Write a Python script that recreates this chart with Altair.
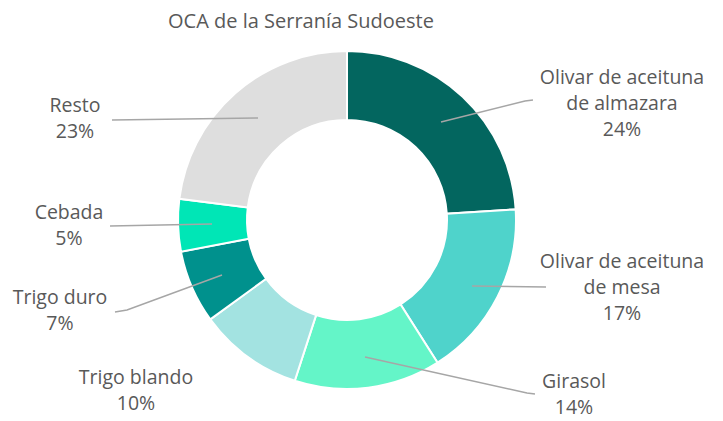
import altair as alt
import pandas as pd

categories = ["Olivar de aceituna de almazara", "Olivar de aceituna de mesa", "Girasol",
              "Trigo blando", "Trigo duro", "Cebada", "Resto"]
label_texts = ["Olivar de aceituna\nde almazara", "Olivar de aceituna\nde mesa", "Girasol",
               "Trigo blando", "Trigo duro", "Cebada", "Resto"]
values = [24, 17, 14, 10, 7, 5, 23]
colors = ["#03665f", "#4fd3cb", "#64f5c8", "#a3e3e1", "#00918d", "#00e6b6", "#dedede"]

# layout (chart pixel coords): first-line centre of each label, and leader lines
label_x = [614, 614, 566, 128, 52, 61, 67]
label_y = [70, 254, 374, 370, 290, 205, 98]
leaders = {
    "Olivar de aceituna de almazara": [(433, 114), (517, 93), (525, 92)],
    "Olivar de aceituna de mesa": [(464, 278), (538, 279)],
    "Girasol": [(357, 349), (519, 385), (527, 386)],
    "Trigo duro": [(107, 304), (119, 302), (214, 267)],
    "Cebada": [(102, 218), (204, 216)],
    "Resto": [(104, 112), (250, 110)],
}

df = pd.DataFrame({
    "cat": categories,
    "value": values,
    "idx": list(range(len(categories))),
    "label": [f"{t}\n{v}%" for t, v in zip(label_texts, values)],
    "lx": label_x,
    "ly": label_y,
})

rows = []
for c, pts in leaders.items():
    for i, (x, y) in enumerate(pts):
        rows.append({"cat": c, "i": i, "x": x, "y": y})
ldf = pd.DataFrame(rows)

W, H = 707, 412
cx, cy = 339, 212

arcs = alt.Chart(df).mark_arc(outerRadius=169, innerRadius=100, stroke="white", strokeWidth=2).encode(
    theta=alt.Theta("value:Q", stack=True),
    color=alt.Color("cat:N", scale=alt.Scale(domain=categories, range=colors), legend=None),
    order=alt.Order("idx:Q"),
    x=alt.value(cx),
    y=alt.value(cy),
)

lines = alt.Chart(ldf).mark_line(color="#a6a6a6", strokeWidth=1.5).encode(
    x=alt.X("x:Q", scale=None),
    y=alt.Y("y:Q", scale=None),
    detail="cat:N",
    order="i:Q",
)

labels = alt.Chart(df).mark_text(
    font="Open Sans", fontSize=19.5, color="#595959", lineBreak="\n", lineHeight=26,
    align="center", baseline="middle"
).encode(
    x=alt.X("lx:Q", scale=None),
    y=alt.Y("ly:Q", scale=None),
    text="label:N",
)

title = alt.Chart(pd.DataFrame({"t": ["OCA de la Serranía Sudoeste"]})).mark_text(
    font="Open Sans", fontSize=20, color="#595959", align="center", baseline="middle"
).encode(
    x=alt.value(293), y=alt.value(14), text="t:N"
)

chart = alt.layer(arcs, lines, labels, title).properties(
    width=W, height=H, autosize=alt.AutoSizeParams(type="none"), padding=0
).configure_view(stroke=None)

chart.save("out.html", embed_options={"renderer": "svg", "actions": False})
